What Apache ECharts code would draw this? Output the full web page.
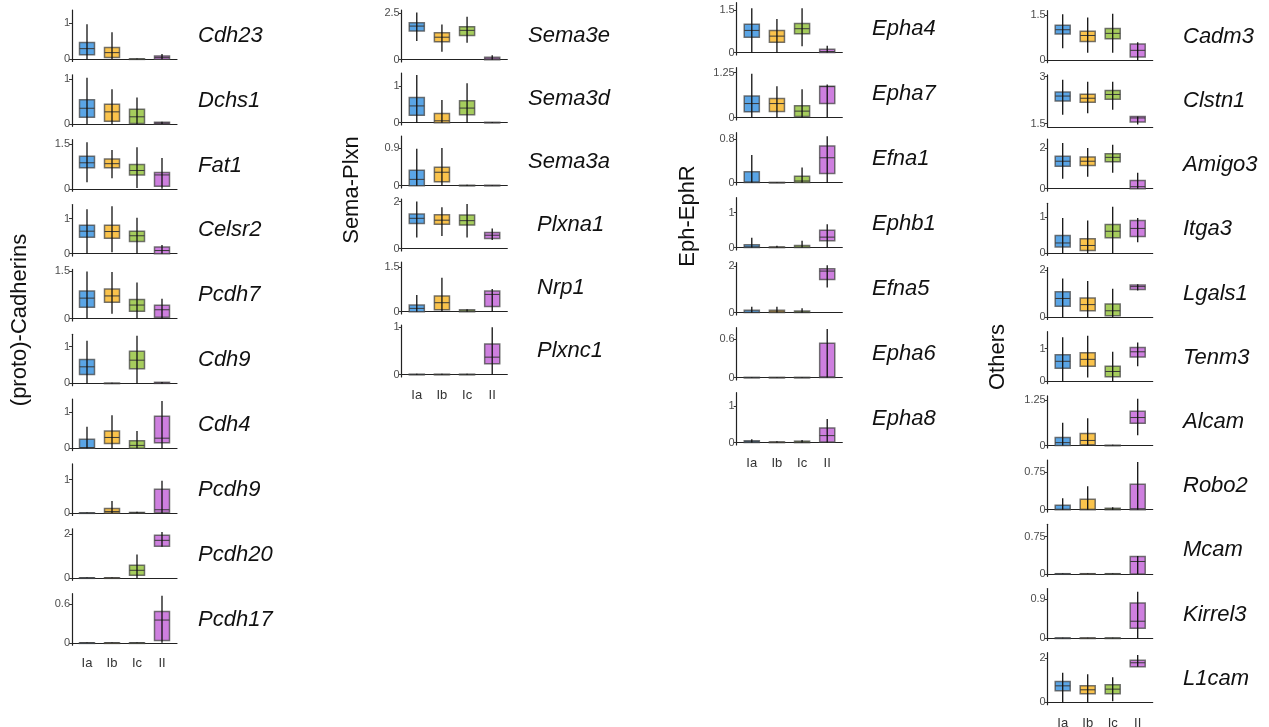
<!DOCTYPE html>
<html>
<head>
<meta charset="utf-8">
<title>Boxplots by gene family</title>
<script src="https://cdn.jsdelivr.net/npm/echarts@6/dist/echarts.min.js"></script>
<style>
    html, body { margin: 0; padding: 0; background: #fff; }
    #chart { width: 1269px; height: 727px; }
</style>
</head>
<body>
<div id="chart"></div>
<script>
// groups on the x axis
const groups = ['Ia', 'Ib', 'Ic', 'II'];

// each gene: 4 boxes [min, q1, median, q3, max] for Ia, Ib, Ic, II
const cadherinGenes = ['Cdh23', 'Dchs1', 'Fat1', 'Celsr2', 'Pcdh7', 'Cdh9', 'Cdh4', 'Pcdh9', 'Pcdh20', 'Pcdh17'];
const cadherinTicks = [[0, 1], [0, 1], [0, 1.5], [0, 1], [0, 1.5], [0, 1], [0, 1], [0, 1], [0, 2], [0, 0.6]];
const cadherinMax = [1.29, 1.04, 1.58, 1.33, 1.49, 1.27, 1.30, 1.40, 2.14, 0.72];
const cadherinStats = [
    [[0, 0.12, 0.29, 0.46, 0.96], [0, 0.045, 0.18, 0.32, 0.74], [0, 0, 0, 0.01, 0.02], [0, 0, 0.05, 0.09, 0.14]],
    [[0, 0.15, 0.35, 0.54, 1.03], [0, 0.06, 0.27, 0.44, 0.77], [0, 0.01, 0.16, 0.33, 0.59], [0, 0, 0.02, 0.04, 0.05]],
    [[0.22, 0.71, 0.88, 1.10, 1.57], [0.36, 0.71, 0.85, 1.01, 1.31], [0.03, 0.47, 0.62, 0.82, 1.40], [0, 0.09, 0.47, 0.55, 1.04]],
    [[0, 0.47, 0.64, 0.81, 1.26], [0.04, 0.44, 0.63, 0.81, 1.35], [0, 0.35, 0.51, 0.64, 1.02], [0, 0, 0.09, 0.19, 0.25]],
    [[0, 0.36, 0.65, 0.875, 1.5], [0.15, 0.52, 0.72, 0.94, 1.48], [0, 0.23, 0.43, 0.61, 1.15], [0, 0.04, 0.28, 0.42, 0.63]],
    [[0, 0.24, 0.45, 0.65, 1.16], [0, 0, 0, 0.01, 0.02], [0, 0.40, 0.63, 0.87, 1.29], [0, 0, 0.01, 0.03, 0.04]],
    [[0, 0, 0.02, 0.25, 0.6], [0, 0.13, 0.30, 0.48, 0.92], [0, 0, 0.08, 0.21, 0.48], [0, 0.15, 0.28, 0.89, 1.31]],
    [[0, 0, 0, 0.01, 0.02], [0, 0, 0.05, 0.14, 0.36], [0, 0, 0.01, 0.02, 0.04], [0, 0.02, 0.1, 0.71, 0.97]],
    [[0, 0, 0, 0.01, 0.02], [0, 0, 0, 0.01, 0.02], [0, 0.12, 0.35, 0.58, 1.07], [1.43, 1.45, 1.72, 1.95, 2.1]],
    [[0, 0, 0, 0, 0.01], [0, 0, 0, 0, 0.01], [0, 0, 0, 0, 0.01], [0, 0.036, 0.35, 0.48, 0.725]]
];

const semaGenes = ['Sema3e', 'Sema3d', 'Sema3a', 'Plxna1', 'Nrp1', 'Plxnc1'];
const semaTicks = [[0, 2.5], [0, 1], [0, 0.9], [0, 2], [0, 1.5], [0, 1]];
const semaMax = [2.55, 1.30, 1.13, 2.01, 1.59, 1.0];
const semaStats = [
    [[1.01, 1.54, 1.81, 1.99, 2.54], [0.42, 0.96, 1.21, 1.45, 1.90], [0.91, 1.30, 1.58, 1.78, 2.32], [0, 0, 0.04, 0.13, 0.24]],
    [[0, 0.2, 0.46, 0.69, 1.31], [0, 0, 0.05, 0.25, 0.62], [0, 0.22, 0.40, 0.60, 1.08], [0, 0, 0, 0.01, 0.02]],
    [[0, 0, 0.15, 0.37, 0.88], [0, 0.09, 0.32, 0.44, 0.9], [0, 0, 0, 0.01, 0.02], [0, 0, 0, 0.01, 0.01]],
    [[0.47, 1.07, 1.29, 1.47, 2.0], [0.54, 1.04, 1.21, 1.44, 1.76], [0.47, 1.0, 1.19, 1.43, 1.9], [0.37, 0.43, 0.57, 0.69, 0.86]],
    [[0, 0, 0.11, 0.22, 0.56], [0, 0.06, 0.30, 0.53, 1.14], [0, 0, 0.02, 0.06, 0.08], [0, 0.17, 0.58, 0.69, 0.76]],
    [[0, 0, 0, 0.01, 0.02], [0, 0, 0, 0.01, 0.02], [0, 0, 0, 0.01, 0.02], [0.01, 0.23, 0.37, 0.65, 1.0]]
];

const ephGenes = ['Epha4', 'Epha7', 'Efna1', 'Ephb1', 'Efna5', 'Epha6', 'Epha8'];
const ephTicks = [[0, 1.5], [0, 1.25], [0, 0.8], [0, 1], [0, 2], [0, 0.6], [0, 1]];
const ephMax = [1.67, 1.32, 0.88, 1.36, 2.06, 0.745, 1.29];
const ephStats = [
    [[0, 0.54, 0.78, 1.0, 1.56], [0, 0.36, 0.58, 0.78, 1.18], [0.22, 0.66, 0.84, 1.02, 1.56], [0, 0, 0.04, 0.12, 0.24]],
    [[0, 0.16, 0.39, 0.60, 1.22], [0, 0.17, 0.39, 0.53, 0.87], [0, 0.03, 0.18, 0.33, 0.79], [0, 0.39, 0.86, 0.87, 0.92]],
    [[0, 0, 0.01, 0.2, 0.51], [0, 0, 0, 0.005, 0.01], [0, 0, 0.03, 0.12, 0.28], [0, 0.17, 0.46, 0.68, 0.86]],
    [[0, 0, 0.02, 0.08, 0.28], [0, 0, 0.01, 0.02, 0.05], [0, 0, 0.01, 0.06, 0.2], [0, 0.2, 0.3, 0.5, 0.67]],
    [[0, 0, 0.01, 0.1, 0.25], [0, 0, 0.03, 0.1, 0.25], [0, 0, 0.01, 0.07, 0.19], [1.09, 1.43, 1.8, 1.9, 2.05]],
    [[0, 0, 0, 0.005, 0.01], [0, 0, 0, 0.005, 0.01], [0, 0, 0, 0.005, 0.01], [0, 0, 0.01, 0.54, 0.76]],
    [[0, 0, 0.02, 0.05, 0.09], [0, 0, 0.01, 0.02, 0.04], [0, 0, 0.01, 0.04, 0.07], [0, 0.02, 0.19, 0.4, 0.64]]
];

const otherGenes = ['Cadm3', 'Clstn1', 'Amigo3', 'Itga3', 'Lgals1', 'Tenm3', 'Alcam', 'Robo2', 'Mcam', 'Kirrel3', 'L1cam'];
const otherTicks = [[0, 1.5], [1.5, 3], [0, 2], [0, 1], [0, 2], [0, 1], [0, 1.25], [0, 0.75], [0, 0.75], [0, 0.9], [0, 2]];
const otherMin = [0, 1.47, 0, 0, 0, 0, 0, 0, 0, 0, 0];
const otherMax = [1.56, 2.98, 2.32, 1.33, 2.0, 1.44, 1.30, 0.95, 0.95, 1.09, 2.15];
const otherStats = [
    [[0.4, 0.87, 1.01, 1.16, 1.52], [0.25, 0.62, 0.82, 0.96, 1.41], [0.25, 0.71, 0.89, 1.05, 1.54], [0, 0.11, 0.33, 0.54, 0.6]],
    [[1.78, 2.22, 2.38, 2.51, 2.9], [1.83, 2.18, 2.31, 2.44, 2.84], [1.94, 2.28, 2.43, 2.56, 2.84], [1.47, 1.55, 1.68, 1.73, 1.73]],
    [[0.49, 1.1, 1.35, 1.59, 2.24], [0.59, 1.14, 1.35, 1.56, 2.0], [0.78, 1.32, 1.54, 1.72, 2.16], [0, 0, 0.1, 0.41, 0.78]],
    [[0, 0.17, 0.28, 0.49, 0.98], [0, 0.07, 0.21, 0.4, 0.91], [0, 0.43, 0.61, 0.8, 1.3], [0.3, 0.46, 0.69, 0.91, 0.98]],
    [[0, 0.46, 0.79, 1.07, 1.63], [0, 0.27, 0.53, 0.81, 1.53], [0, 0.06, 0.27, 0.56, 1.2], [1.13, 1.17, 1.29, 1.36, 1.39]],
    [[0, 0.4, 0.61, 0.81, 1.34], [0.12, 0.46, 0.67, 0.87, 1.39], [0, 0.14, 0.3, 0.46, 0.9], [0.46, 0.74, 0.9, 1.03, 1.18]],
    [[0, 0, 0.08, 0.22, 0.63], [0, 0.02, 0.14, 0.33, 0.75], [0, 0, 0, 0.01, 0.02], [0.28, 0.61, 0.77, 0.94, 1.29]],
    [[0, 0, 0.01, 0.09, 0.23], [0, 0, 0.01, 0.21, 0.47], [0, 0, 0.01, 0.03, 0.05], [0, 0, 0.02, 0.51, 0.96]],
    [[0, 0, 0, 0.005, 0.01], [0, 0, 0, 0.005, 0.01], [0, 0, 0, 0.005, 0.01], [0, 0, 0.25, 0.35, 0.36]],
    [[0, 0, 0, 0.005, 0.01], [0, 0, 0, 0.005, 0.01], [0, 0, 0, 0.005, 0.01], [0, 0.23, 0.39, 0.81, 1.07]],
    [[0, 0.53, 0.75, 0.95, 1.35], [0, 0.39, 0.57, 0.75, 1.28], [0.05, 0.39, 0.6, 0.8, 1.14], [1.62, 1.62, 1.8, 1.91, 2.15]]
];

const boxColors = ['#5AA5E6', '#FAC34C', '#A6CD5D', '#CE7FDF'];
const font = '"Liberation Sans", Arial, sans-serif';

// layout of the four columns of small panels
const columns = [
    { title: '(proto)-Cadherins', titleX: 20, titleY: 320, genes: cadherinGenes, ticks: cadherinTicks, lo: null, hi: cadherinMax, stats: cadherinStats,
      left: 72, width: 105, top: 10, step: 64.85, h: 51.5, labelX: function (i) { return 198; } },
    { title: 'Sema-Plxn', titleX: 352, titleY: 190, genes: semaGenes, ticks: semaTicks, lo: null, hi: semaMax, stats: semaStats,
      left: 401.7, width: 105.6, top: 10, step: 63, h: 52, labelX: function (i) { return i < 3 ? 528 : 537; } },
    { title: 'Eph-EphR', titleX: 688, titleY: 216, genes: ephGenes, ticks: ephTicks, lo: null, hi: ephMax, stats: ephStats,
      left: 736.7, width: 105.6, top: 2.7, step: 65, h: 52.3, labelX: function (i) { return 872; } },
    { title: 'Others', titleX: 998, titleY: 357, genes: otherGenes, ticks: otherTicks, lo: otherMin, hi: otherMax, stats: otherStats,
      left: 1047.7, width: 105, top: 10.7, step: 64.2, h: 52, labelX: function (i) { return 1183; } }
];

function renderBox(params, api) {
    var x = api.value(0);
    var pMin = api.coord([x, api.value(1)]);
    var pQ1 = api.coord([x, api.value(2)]);
    var pMed = api.coord([x, api.value(3)]);
    var pQ3 = api.coord([x, api.value(4)]);
    var pMax = api.coord([x, api.value(5)]);
    var half = api.size([0.6, 0])[0] / 2;
    var color = boxColors[params.dataIndex];
    return {
        type: 'group',
        children: [
            {
                type: 'rect',
                shape: { x: pQ3[0] - half, y: pQ3[1], width: half * 2, height: Math.max(pQ1[1] - pQ3[1], 0.6) },
                style: { fill: color, stroke: 'rgba(70,70,70,0.75)', lineWidth: 1.5 }
            },
            {
                type: 'line',
                shape: { x1: pMed[0] - half, y1: pMed[1], x2: pMed[0] + half, y2: pMed[1] },
                style: { stroke: '#3a3a3a', lineWidth: 1 }
            },
            {
                type: 'line',
                shape: { x1: pMin[0], y1: pMin[1], x2: pMax[0], y2: pMax[1] },
                style: { stroke: '#111', lineWidth: 1.3 }
            }
        ]
    };
}

var grids = [], xAxes = [], yAxes = [], series = [], graphics = [];

columns.forEach(function (col) {
    graphics.push({
        type: 'text', x: col.titleX, y: col.titleY, rotation: Math.PI / 2,
        style: { text: col.title, fontSize: 22, fontFamily: font, fill: '#111', align: 'center', verticalAlign: 'middle' }
    });

    col.genes.forEach(function (gene, i) {
        var idx = grids.length;
        var top = col.top + col.step * i;
        var lo = col.lo ? col.lo[i] : 0;
        var hi = col.hi[i];
        var pad = (hi - lo) * 0.05;
        var last = i === col.genes.length - 1;

        grids.push({ left: col.left, top: top, width: col.width, height: col.h, outerBoundsMode: 'none' });

        xAxes.push({
            gridIndex: idx, type: 'value', min: 0.4, max: 4.6,
            axisLine: { show: true, lineStyle: { color: '#222', width: 1.2 } },
            axisTick: { show: false },
            splitLine: { show: false },
            axisLabel: {
                show: last, customValues: [1, 2, 3, 4], margin: 12,
                fontSize: 13, fontFamily: font, color: '#333',
                formatter: function (v) { return groups[Math.round(v) - 1]; }
            }
        });

        yAxes.push({
            gridIndex: idx, type: 'value', min: lo - pad, max: hi + pad,
            axisLine: { show: true, lineStyle: { color: '#222', width: 1.2 } },
            axisTick: { show: true, length: 3, customValues: col.ticks[i], lineStyle: { color: '#333' } },
            splitLine: { show: false },
            axisLabel: {
                customValues: col.ticks[i], margin: 2,
                fontSize: 11, fontFamily: font, color: '#4d4d4d',
                formatter: function (v) { return String(v); }
            }
        });

        series.push({
            type: 'custom', name: gene,
            xAxisIndex: idx, yAxisIndex: idx,
            renderItem: renderBox,
            clip: false,
            data: col.stats[i].map(function (s, k) { return [k + 1].concat(s); })
        });

        graphics.push({
            type: 'text', x: col.labelX(i), y: top + col.h / 2,
            style: { text: gene, fontSize: 22, fontStyle: 'italic', fontFamily: font, fill: '#111', align: 'left', verticalAlign: 'middle' }
        });
    });
});

var chart = echarts.init(document.getElementById('chart'), null, { renderer: 'canvas' });
chart.setOption({
    animation: false,
    backgroundColor: '#fff',
    grid: grids,
    xAxis: xAxes,
    yAxis: yAxes,
    series: series,
    graphic: graphics
});
</script>
</body>
</html>
